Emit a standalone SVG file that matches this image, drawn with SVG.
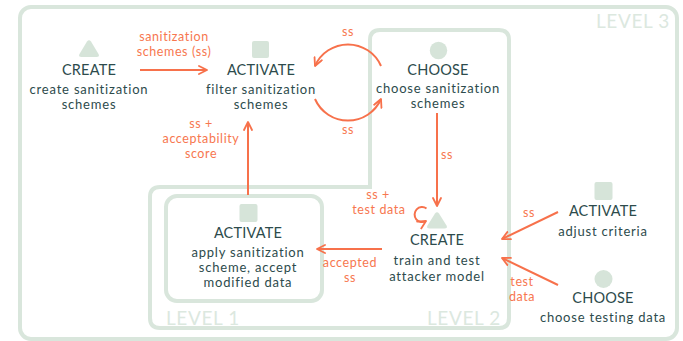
<svg xmlns="http://www.w3.org/2000/svg" width="683" height="341" viewBox="0 0 683 341">
<style>
.frame{fill:none;stroke:#d9e6dc;stroke-width:4}
.lvl{font-family:Lato,"Liberation Sans",sans-serif;font-size:19px;letter-spacing:0.6px;fill:#dce8df}
.icon{fill:#d6e4d9}
.t{font-family:Lato,"Liberation Sans",sans-serif;font-size:13px;letter-spacing:0.8px;fill:#2d4b4c;text-anchor:middle}
.h{font-family:Lato,"Liberation Sans",sans-serif;font-size:14.5px;letter-spacing:0.2px;fill:#2d4b4c;text-anchor:middle}
.e{fill:none;stroke:#f7714b;stroke-width:2;marker-end:url(#ah)}
.l{font-family:Lato,"Liberation Sans",sans-serif;font-size:12.5px;letter-spacing:0.6px;fill:#f7774f;text-anchor:middle}
</style>
<defs>
<marker id="ah" viewBox="0 0 10 10" refX="9" refY="5" markerWidth="10" markerHeight="10" orient="auto" markerUnits="userSpaceOnUse">
<path d="M1,1 L9,5 L1,9" fill="none" stroke="#f7714b" stroke-width="1.8" stroke-linecap="round" stroke-linejoin="round"/>
</marker>
</defs>
<g id="levels">
<rect class="frame" x="20" y="7" width="657" height="332" rx="11"/>
<path class="frame" d="M370,40 Q370,30 380,30 L499,30 Q509,30 509,40 L509,318 Q509,328 499,328 L160,328 Q150,328 150,318 L150,197 Q150,187 160,187 L370,187 Z"/>
<rect class="frame" x="166" y="196" width="156" height="105" rx="11"/>
<text class="lvl" x="596" y="28">LEVEL 3</text>
<text class="lvl" x="166" y="325">LEVEL 1</text>
<text class="lvl" x="427" y="325">LEVEL 2</text>
</g>
<g id="connectors">
<path class="e" d="M140,70 L207,70"/>
<text class="l" x="174" y="41">sanitization</text>
<text class="l" x="174" y="56">schemes (ss)</text>
<path class="e" d="M381,66 A36,36 0 0 0 315,66"/>
<text class="l" x="348" y="36">ss</text>
<path class="e" d="M315,99 A36,36 0 0 0 381,99"/>
<text class="l" x="348" y="134">ss</text>
<path class="e" d="M437,113 L437,206"/>
<text class="l" x="447" y="159">ss</text>
<path class="e" d="M426.5,208.5 A7.5,7.5 0 1 0 426,221"/>
<text class="l" x="378" y="199">ss +</text>
<text class="l" x="379" y="214">test data</text>
<path class="e" d="M382,249 L317,249"/>
<text class="l" x="350" y="267">accepted</text>
<text class="l" x="350" y="282">ss</text>
<path class="e" d="M248,195 L248,122"/>
<text class="l" x="201" y="128">ss +</text>
<text class="l" x="201" y="143">acceptability</text>
<text class="l" x="201" y="158">score</text>
<path class="e" d="M558,212 L502,239"/>
<text class="l" x="529" y="217">ss</text>
<path class="e" d="M558,285 L502,258"/>
<text class="l" x="522" y="286">test</text>
<text class="l" x="522" y="301">data</text>
</g>
<g id="n-create1">
<path class="icon" d="M87,41.5 Q89,39 91,41.5 L98.5,54 Q100,57 96.5,57 L81.5,57 Q78,57 79.5,54 Z"/>
<text class="h" x="89" y="75">CREATE</text>
<text class="t" x="89" y="94">create sanitization</text>
<text class="t" x="89" y="109">schemes</text>
</g>
<g id="n-activate-filter">
<rect class="icon" x="252" y="41" width="17" height="17" rx="2"/>
<text class="h" x="261" y="75">ACTIVATE</text>
<text class="t" x="261" y="94">filter sanitization</text>
<text class="t" x="261" y="109">schemes</text>
</g>
<g id="n-choose-schemes">
<circle class="icon" cx="438.5" cy="50.5" r="8.7"/>
<text class="h" x="438" y="75">CHOOSE</text>
<text class="t" x="438" y="93">choose sanitization</text>
<text class="t" x="438" y="108">schemes</text>
</g>
<g id="n-create-train">
<path class="icon" d="M435,213.5 Q437,211 439,213.5 L446.5,225.5 Q448,228.5 444.5,228.5 L429.5,228.5 Q426,228.5 427.5,225.5 Z"/>
<text class="h" x="437" y="245">CREATE</text>
<text class="t" x="437" y="265">train and test</text>
<text class="t" x="437" y="281">attacker model</text>
</g>
<g id="n-activate-apply">
<rect class="icon" x="239.5" y="204" width="18" height="18" rx="2"/>
<text class="h" x="248" y="238">ACTIVATE</text>
<text class="t" x="248" y="257">apply sanitization</text>
<text class="t" x="248" y="272">scheme, accept</text>
<text class="t" x="248" y="287">modified data</text>
</g>
<g id="n-activate-adjust">
<rect class="icon" x="594.5" y="182" width="18" height="18" rx="2"/>
<text class="h" x="603" y="216">ACTIVATE</text>
<text class="t" x="603" y="236">adjust criteria</text>
</g>
<g id="n-choose-testing">
<circle class="icon" cx="603.5" cy="279" r="9"/>
<text class="h" x="603" y="303">CHOOSE</text>
<text class="t" x="603" y="322">choose testing data</text>
</g>
</svg>
